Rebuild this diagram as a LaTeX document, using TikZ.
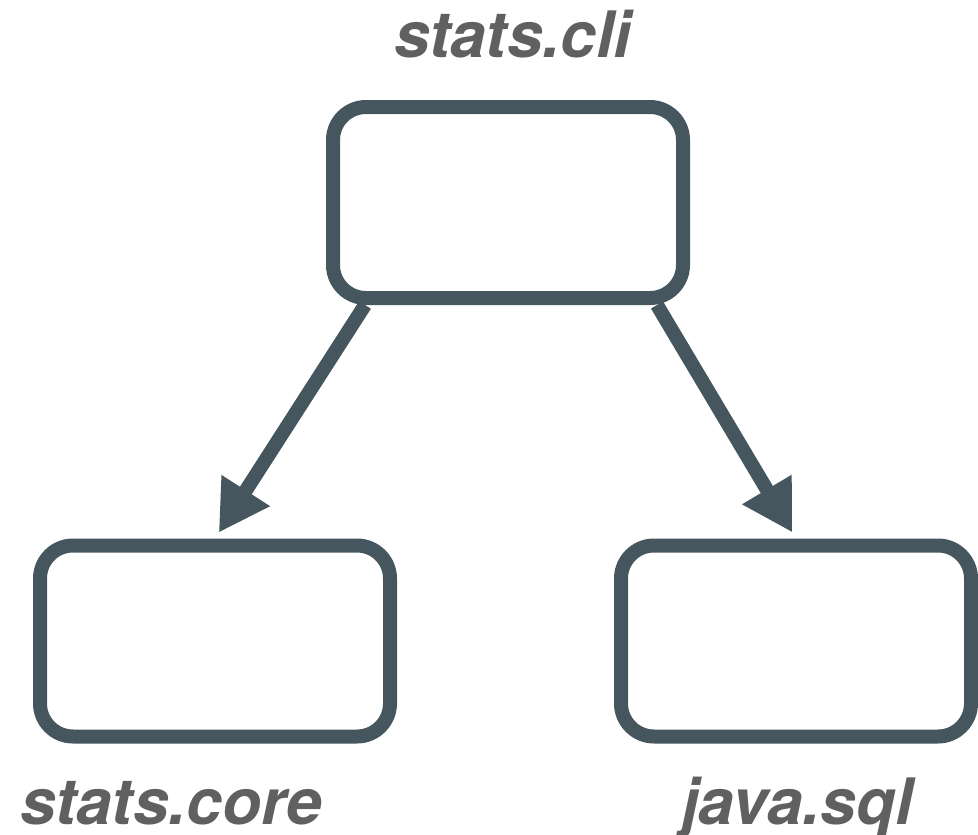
\documentclass[tikz,border=0pt]{standalone}
\usepackage{fontspec}
\setmainfont{TeX Gyre Heros}
\usetikzlibrary{arrows.meta}
\definecolor{boxc}{RGB}{70,86,94}
\definecolor{textc}{RGB}{96,96,96}
\tikzset{
  modbox/.style={draw=boxc, line width=14pt, rounded corners=33pt, minimum width=350pt, minimum height=191pt, inner sep=0pt},
  lbl/.style={text=textc, font=\fontsize{64}{70}\selectfont\bfseries\itshape, anchor=base, inner sep=0pt},
  dep/.style={draw=boxc, line width=14pt, -{Triangle[length=50pt,width=54pt]}, shorten >=7pt}
}
\begin{document}
\begin{tikzpicture}[x=1pt,y=-1pt]
\useasboundingbox (0,0) rectangle (978,835);
\node[modbox] (cli) at (508,202.5) {};
\node[modbox] (core) at (215,641) {};
\node[modbox] (sql) at (796,641) {};
\node[lbl] (tcli) at (513,57) {stats.cli};
\node[lbl] (tcore) at (171,824) {stats.core};
\node[lbl] (tsql) at (797,824) {java.sql};
\draw[dep] ([xshift=-143pt]cli.south) -- (core.north);
\draw[dep] ([xshift=149pt]cli.south) -- (sql.north);
\end{tikzpicture}
\end{document}
